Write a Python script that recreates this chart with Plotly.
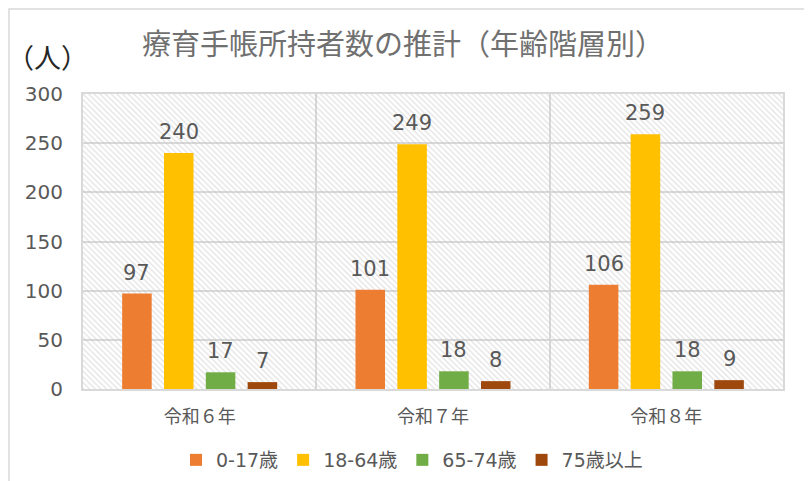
import plotly.graph_objects as go

CATEGORIES = ["令和６年", "令和７年", "令和８年"]
SERIES = ["0-17歳", "18-64歳", "65-74歳", "75歳以上"]
VALUES = {
    "0-17歳": [97, 101, 106],
    "18-64歳": [240, 249, 259],
    "65-74歳": [17, 18, 18],
    "75歳以上": [7, 8, 9],
}
COLORS = ["#ED7D31", "#FFC000", "#70AD47", "#9E480E"]
Y_MAX = 300
Y_DTICK = 50
TITLE = "療育手帳所持者数の推計（年齢階層別）"
UNIT = "（人）"

# the page body has an 8px margin: work in window pixels, then shift
OFF = 8
WIN_W, WIN_H = 812, 481
W, H = WIN_W - OFF, WIN_H - OFF
PL, PR, PT, PB = 83, 783, 94, 389          # plot area in window pixels
ML, MR, MT, MB = PL - OFF, W - (PR - OFF), PT - OFF, H - (PB - OFF)
PW, PH = PR - PL, PB - PT
BARGAP = 0.283
BARGROUPGAP = 0.294

FONT = "DejaVu Sans, Noto Sans CJK JP, sans-serif"
JFONT = "Noto Sans CJK JP, sans-serif"
GRAY = "#595959"
GRID = "#D9D9D9"


def px_x(p):
    return (p - PL) / PW


def px_y(p):
    return (PB - p) / PH


fig = go.Figure()

# hatched plot-area background (base subplot)
fig.add_trace(go.Bar(
    x=CATEGORIES, y=[Y_MAX] * len(CATEGORIES), width=1,
    marker=dict(color="rgba(0,0,0,0)", line=dict(width=0),
                pattern=dict(shape="\\", fgcolor="#C4C4C4", bgcolor="rgba(0,0,0,0)",
                             size=4, solidity=0.3)),
    showlegend=False, hoverinfo="skip", xaxis="x", yaxis="y",
))

for name, color in zip(SERIES, COLORS):
    fig.add_trace(go.Bar(
        x=CATEGORIES, y=VALUES[name], name=name,
        marker=dict(color=color, line=dict(width=0)),
        xaxis="x2", yaxis="y2",
    ))

# value labels
n = len(SERIES)
slot = (1 - BARGAP) / n
for j, name in enumerate(SERIES):
    for i, v in enumerate(VALUES[name]):
        fig.add_annotation(
            x=i + (j - (n - 1) / 2) * slot, y=v, xref="x2", yref="y2",
            text=str(v), showarrow=False, yanchor="bottom", yshift=7,
            font=dict(family=FONT, size=21, color=GRAY),
        )

fig.add_annotation(
    x=px_x(47), y=px_y(57), xref="paper", yref="paper", text=UNIT,
    showarrow=False, xanchor="center", yanchor="middle",
    font=dict(family=JFONT, size=27, color="#262626"),
)

fig.add_shape(type="rect", xref="paper", yref="paper",
              x0=px_x(9), x1=px_x(806), y0=px_y(500), y1=px_y(9),
              line=dict(color=GRID, width=1.5), fillcolor="rgba(0,0,0,0)", layer="below")

fig.update_layout(
    width=W, height=H,
    margin=dict(l=ML, r=MR, t=MT, b=MB, autoexpand=False),
    paper_bgcolor="white", plot_bgcolor="white",
    barmode="group", bargap=BARGAP, bargroupgap=BARGROUPGAP,
    title=dict(text=TITLE, x=px_x(403), xref="paper", xanchor="center",
               y=1 - (45 - OFF) / H, yref="container", yanchor="middle",
               font=dict(family=JFONT, size=29, color="#707070")),
    xaxis=dict(type="category", categoryarray=CATEGORIES, tickson="boundaries",
               showgrid=True, gridcolor=GRID, gridwidth=1.5,
               showline=True, linecolor=GRID, linewidth=2, mirror=True,
               ticks="", ticklabelstandoff=10, range=[-0.5, len(CATEGORIES) - 0.5],
               tickfont=dict(family=JFONT, size=18, color=GRAY)),
    yaxis=dict(range=[0, Y_MAX], dtick=Y_DTICK, showgrid=True, gridcolor=GRID, gridwidth=2,
               showline=True, linecolor=GRID, linewidth=2, mirror=True, zeroline=False,
               ticks="", ticklabelstandoff=14,
               tickfont=dict(family=FONT, size=20, color=GRAY)),
    xaxis2=dict(type="category", categoryarray=CATEGORIES, overlaying="x", matches="x",
                visible=False),
    yaxis2=dict(overlaying="y", range=[0, Y_MAX], visible=False),
    legend=dict(orientation="h", x=px_x(412), xanchor="center", y=px_y(460), yanchor="middle",
                font=dict(family=FONT, size=19, color=GRAY), itemwidth=30,
                traceorder="normal"),
    showlegend=True,
)

fig.write_html("out.html")
